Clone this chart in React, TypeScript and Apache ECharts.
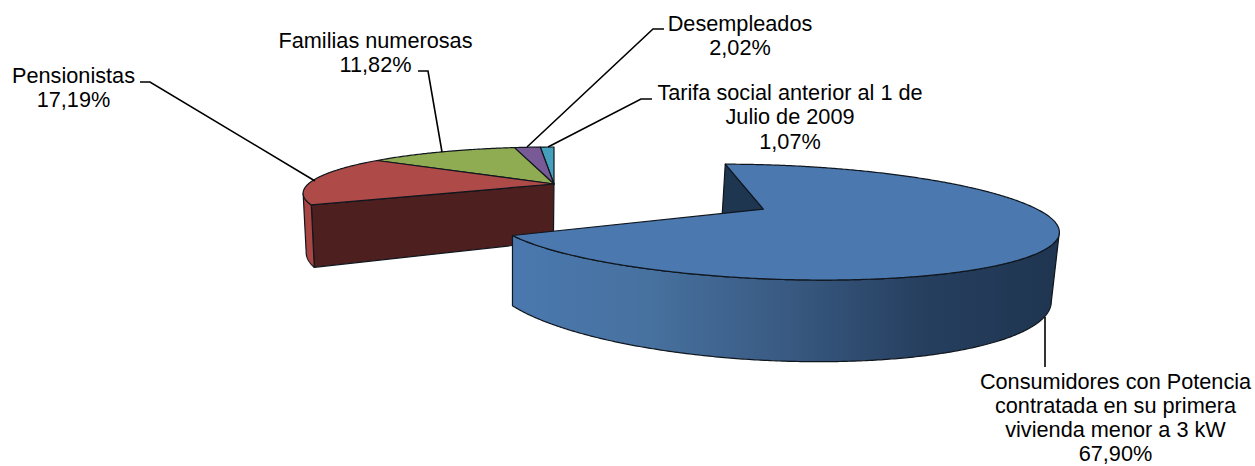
import React, { useEffect, useRef } from "react";
import * as echarts from "echarts";

const categories = [
  "Consumidores con Potencia\ncontratada en su primera\nvivienda menor a 3 kW",
  "Pensionistas",
  "Familias numerosas",
  "Desempleados",
  "Tarifa social anterior al 1 de\nJulio de 2009",
];
const shares = [67.9, 17.19, 11.82, 2.02, 1.07];
const shareLabels = ["67,90%", "17,19%", "11,82%", "2,02%", "1,07%"];

const topColors = ["#4a78af", "#ae4a48", "#8fac53", "#775a96", "#44a0bd"];
const wallColors = ["#4a78af", "#a94543", "#8fac53", "#775a96", "#44a0bd"];
const faceColors = ["#1f3651", "#4d1f1f", "#4d5e2a", "#3f2e54", "#205766"];

// Perspective of the pie plane
const VX = 554;
const VY = -38;
const A = 1229;
const B = 1110;
const D0 = 5;
const WALL = 285;
const NADIR_X = 512;
const SHRINK = 0.0147;
const EXPLODE = [[0.765, -0.51], [0, 0], [0, 0], [0, 0], [0, 0]];

type P = [number, number];

function top(e: number[], X: number, Y: number): P {
  const D = D0 + e[1] + Y;
  return [VX + (A * (e[0] + X)) / D, VY + B / D];
}
function low(e: number[], X: number, Y: number): P {
  const D = D0 + e[1] + Y;
  const p = top(e, X, Y);
  return [p[0] + (NADIR_X - p[0]) * SHRINK, p[1] + WALL / D];
}
const rad = (deg: number) => (deg * Math.PI) / 180;
const onRim = (f: typeof top, e: number[], deg: number): P =>
  f(e, Math.sin(rad(deg)), Math.cos(rad(deg)));

function arcDegrees(a: number, b: number): number[] {
  const out: number[] = [];
  const n = Math.max(2, Math.ceil(Math.abs(b - a) * 2));
  for (let i = 0; i <= n; i++) out.push(a + ((b - a) * i) / n);
  return out;
}

// the rim's left and right turning points bound the part of the wall that shows
function silhouette(e: number[]): [number, number] {
  let right = 90;
  let left = 270;
  for (let d = 0; d <= 360; d += 0.5) {
    if (onRim(top, e, d)[0] > onRim(top, e, right)[0]) right = d;
    if (onRim(top, e, d)[0] < onRim(top, e, left)[0]) left = d;
  }
  return [right, left];
}

const total = shares.reduce((s, v) => s + v, 0);

function renderSlice(params: any, api: any) {
  const i = params.dataIndex;
  const before = shares.slice(0, i).reduce((s, v) => s + v, 0);
  const a0 = (before / total) * 360;
  const a1 = a0 + (api.value(0) / total) * 360;
  const e = EXPLODE[i];
  const base = (5 - i) * 10;
  const stroke = { stroke: "#10161e", lineWidth: 1.2, lineJoin: "round" };
  const children: any[] = [];

  // cut face at the start of the slice, only where it shows
  if (i < 2) {
    children.push({
      type: "polygon",
      z2: base,
      shape: {
        points: [top(e, 0, 0), onRim(top, e, a0), onRim(low, e, a0), low(e, 0, 0)],
      },
      style: { fill: faceColors[i], ...stroke },
    });
  }
  // outer wall between the rim's turning points
  const [right, left] = silhouette(e);
  const w0 = Math.max(a0, right);
  const w1 = Math.min(a1, left);
  if (w1 > w0) {
    const degs = arcDegrees(w0, w1);
    children.push({
      type: "polygon",
      z2: base + 1,
      shape: {
        points: [
          ...degs.map((d) => onRim(top, e, d)),
          ...degs.slice().reverse().map((d) => onRim(low, e, d)),
        ],
      },
      style: {
        fill:
          i === 0
            ? new echarts.graphic.LinearGradient(0, 0, 1, 0, [
                { offset: 0, color: "#4a78af" },
                { offset: 0.25, color: "#47719f" },
                { offset: 0.5, color: "#395a82" },
                { offset: 0.75, color: "#263f5f" },
                { offset: 1, color: "#1f3550" },
              ])
            : wallColors[i],
        ...stroke,
      },
    });
  }
  // top surface
  children.push({
    type: "polygon",
    z2: base + 2,
    shape: {
      points: [top(e, 0, 0), ...arcDegrees(a0, a1).map((d) => onRim(top, e, d))],
    },
    style: { fill: topColors[i], ...stroke },
  });
  return { type: "group", children };
}

const leaders: number[][][] = [
  [[1045, 317], [1045, 367]],
  [[140, 82], [150, 82], [315, 181]],
  [[418, 71], [428, 71], [442, 152]],
  [[664, 29], [653, 29], [527, 147]],
  [[652, 99], [641, 99], [548, 147]],
];
const labelCentres = [
  [1115.5, 369.5],
  [73.5, 63],
  [375.5, 28],
  [740, 11],
  [790, 80],
];
const lineHeights = [23.8, 24.6, 24.6, 24.6, 24.6];
const FONT = '21.7px "Liberation Sans", Arial, sans-serif';

export default function App() {
  const ref = useRef<HTMLDivElement>(null);
  useEffect(() => {
    const chart = echarts.init(ref.current!, null, { renderer: "svg" });
    chart.setOption({
      animation: false,
      backgroundColor: "#ffffff",
      series: [
        {
          type: "custom",
          coordinateSystem: "none",
          silent: true,
          data: shares.map((v, i) => ({ name: categories[i], value: [v] })),
          renderItem: renderSlice,
        },
      ],
      graphic: [
        ...leaders.map((pts) => ({
          type: "polyline",
          silent: true,
          z: 20,
          shape: { points: pts },
          style: { stroke: "#000000", lineWidth: 1.6, fill: "none" },
        })),
        ...categories.map((c, i) => ({
          type: "text",
          silent: true,
          z: 21,
          x: labelCentres[i][0],
          y: labelCentres[i][1],
          style: {
            text: c,
            fill: "#000000",
            font: FONT,
            lineHeight: lineHeights[i],
            align: "center",
            verticalAlign: "top",
          },
        })),
        ...shareLabels.map((s, i) => ({
          type: "text",
          silent: true,
          z: 21,
          x: labelCentres[i][0],
          y: labelCentres[i][1] + categories[i].split("\n").length * lineHeights[i] + 2.8,
          style: {
            text: s,
            fill: "#000000",
            font: FONT,
            lineHeight: 19,
            align: "center",
            verticalAlign: "top",
          },
        })),
      ],
    });
    return () => chart.dispose();
  }, []);
  return (
    <div
      ref={ref}
      style={{ position: "absolute", left: 0, top: 0, width: 1255, height: 466 }}
    />
  );
}
